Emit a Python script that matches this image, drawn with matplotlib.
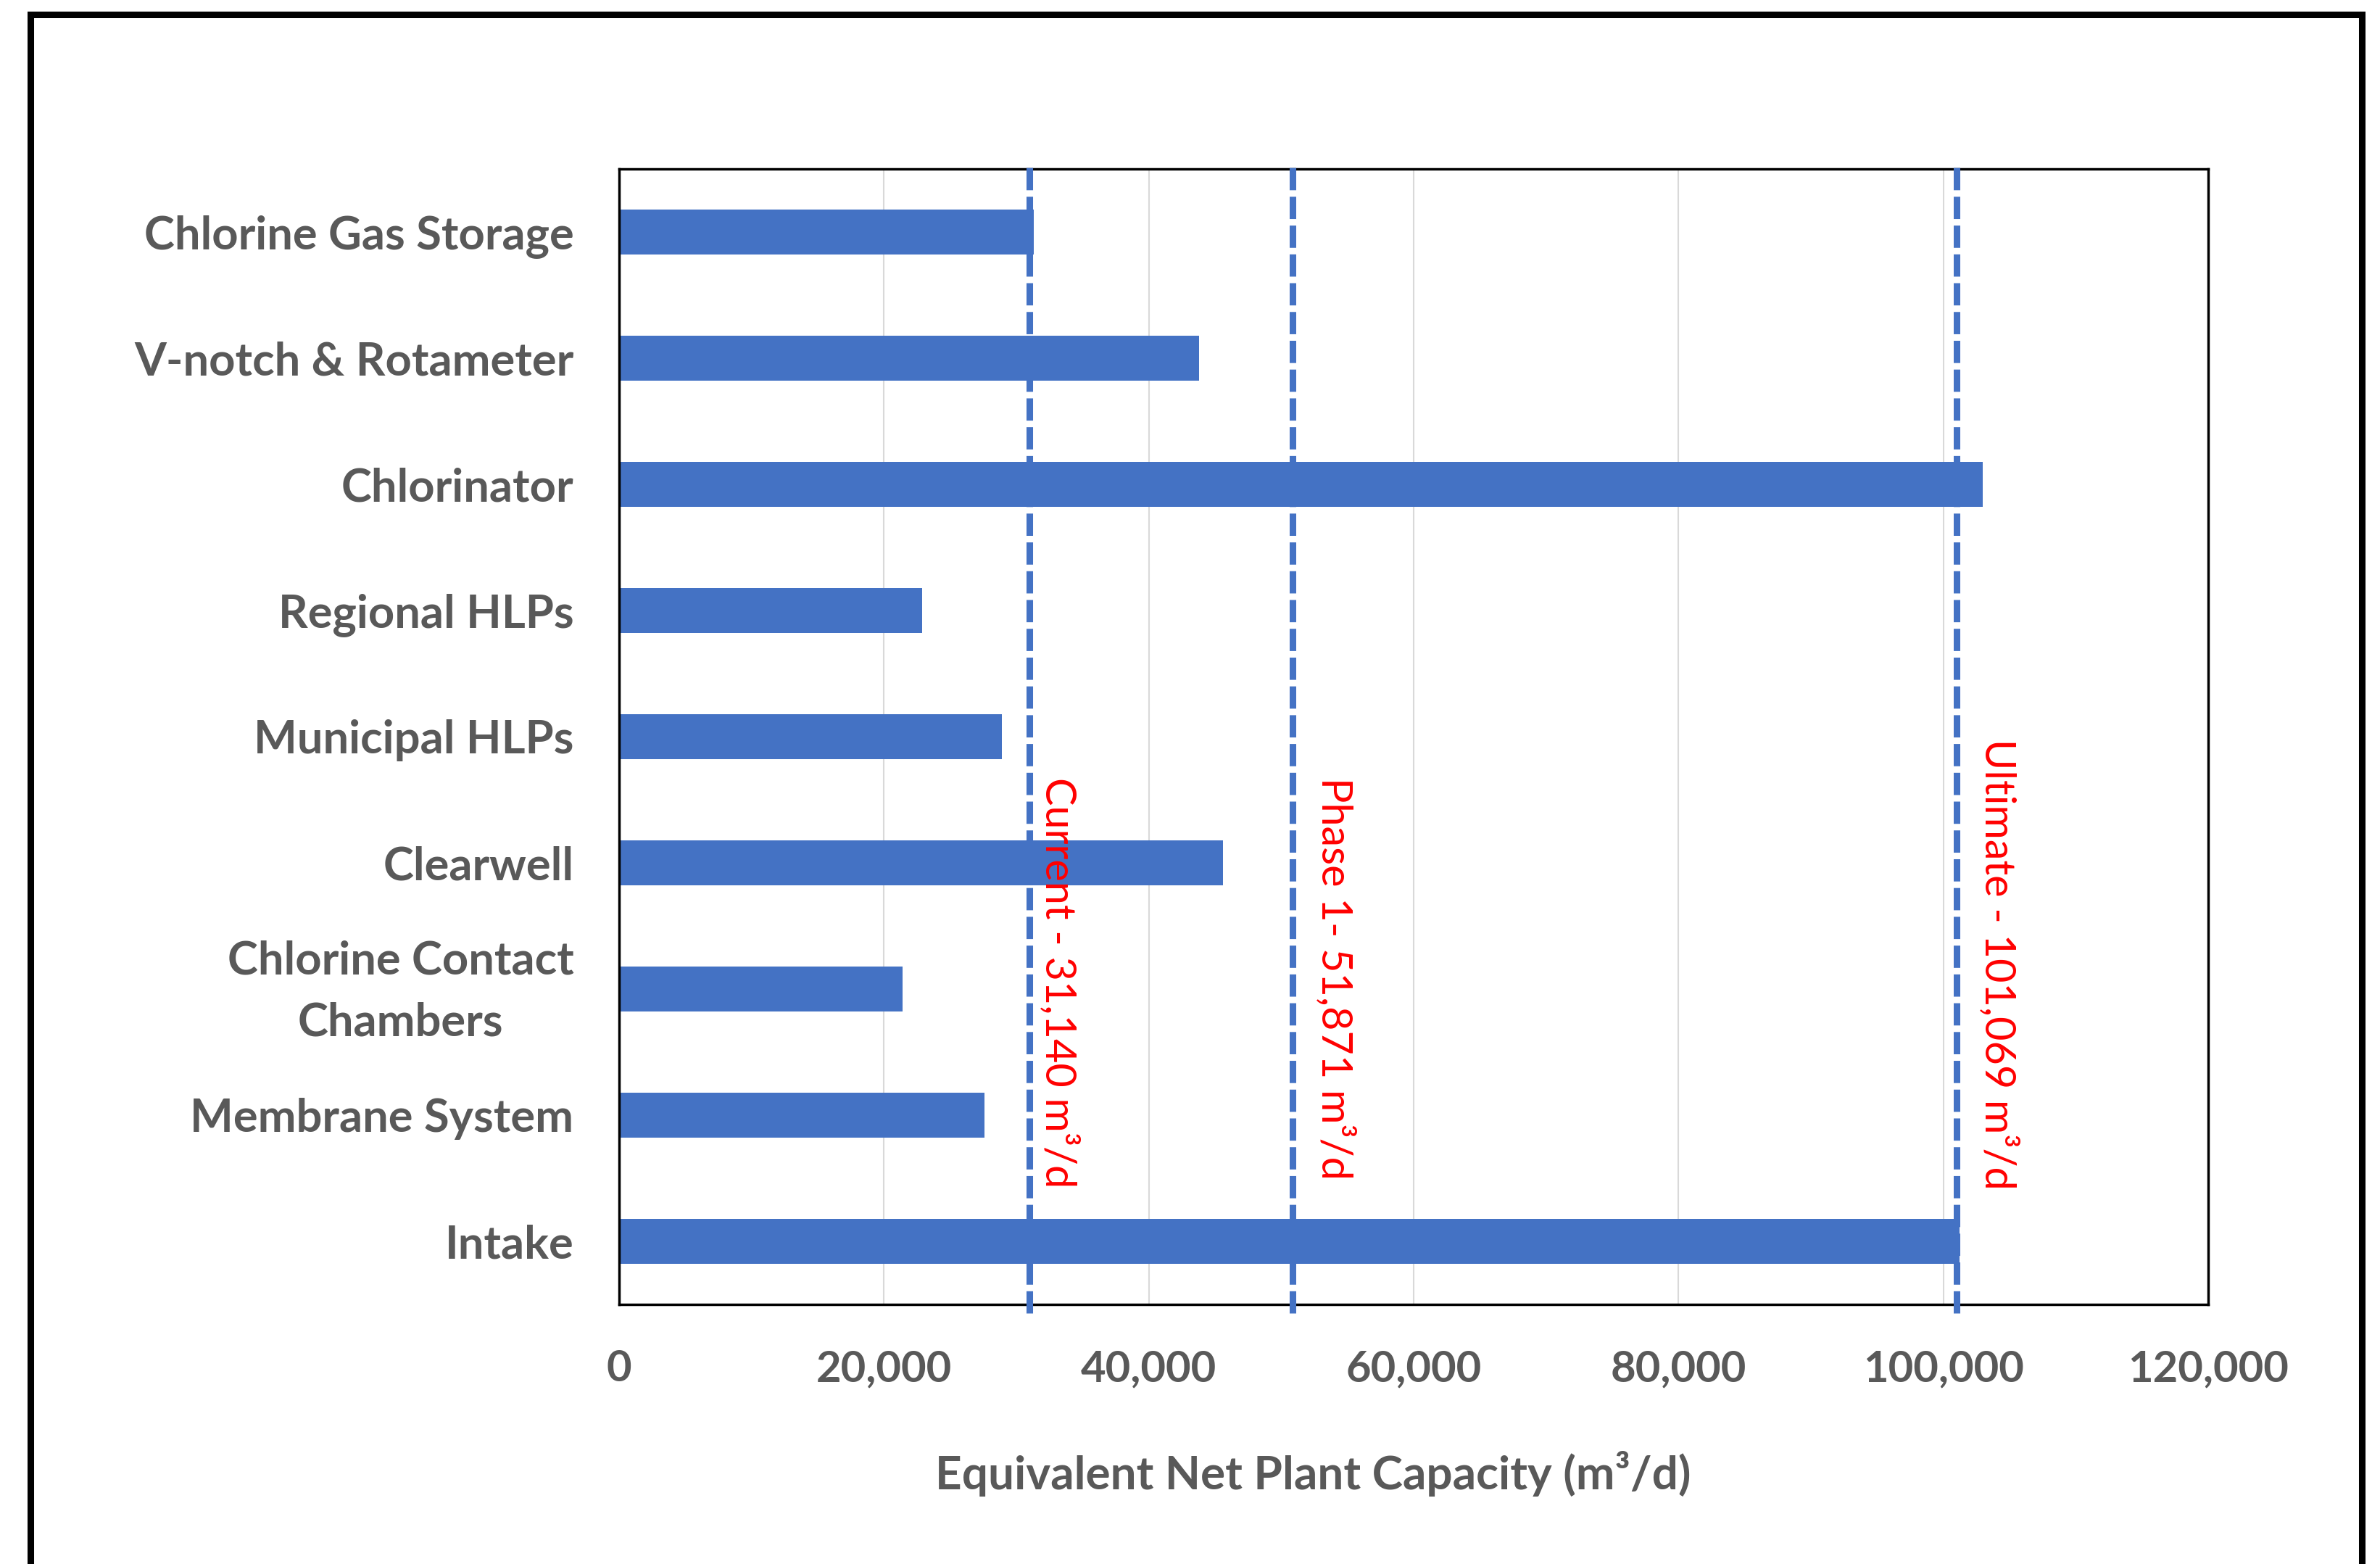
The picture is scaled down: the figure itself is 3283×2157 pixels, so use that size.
import numpy as np
import matplotlib
matplotlib.use('Agg')
import matplotlib.pyplot as plt
from matplotlib.lines import Line2D
from matplotlib.ticker import FuncFormatter
from matplotlib.transforms import ScaledTranslation

plt.rcParams['font.family'] = ['Lato', 'DejaVu Sans']

# datos
componentes = ['Chlorine Gas Storage', 'V-notch & Rotameter', 'Chlorinator', 'Regional HLPs',
               'Municipal HLPs', 'Clearwell', 'Chlorine Contact\nChambers', 'Membrane System', 'Intake']
capacidad = [31300, 43800, 103000, 22900, 28900, 45600, 21400, 27600, 101200]

# lineas de referencia (posicion dibujada) y su texto
lineas_x = [31000, 50850, 101000]
lineas_texto = ['Current - 31,140 m³/d', 'Phase 1- 51,871 m³/d', 'Ultimate - 101,069 m³/d']

x_ticks = [0, 20000, 40000, 60000, 80000, 100000, 120000]

azul = '#4472C4'
gris = '#595959'

fig = plt.figure(figsize=(32.83, 21.57), dpi=100)
ax = fig.add_axes([0.2601, 0.1660, 0.6677, 0.7260])

y = np.arange(len(componentes))
ax.barh(y, capacidad, height=0.36, color=azul, zorder=2)

ax.set_xlim(0, 120000)
ax.set_ylim(-0.5, len(componentes) - 0.5)
ax.invert_yaxis()

ax.set_xticks(x_ticks)
ax.xaxis.set_major_formatter(FuncFormatter(lambda v, p: f'{int(v):,}'))
ax.set_yticks(y)
ax.set_yticklabels(componentes)

ax.tick_params(axis='both', length=0, labelcolor=gris)
ax.tick_params(axis='x', pad=45, labelsize=43)
ax.tick_params(axis='y', pad=45, labelsize=45.5)
for lbl in ax.get_xticklabels() + ax.get_yticklabels():
    lbl.set_fontweight('bold')
for lbl in ax.get_yticklabels():
    if '\n' in lbl.get_text():
        lbl.set_multialignment('center')
        lbl.set_linespacing(1.58)
        # subir un poco la etiqueta de dos lineas
        lbl.set_transform(lbl.get_transform() + ScaledTranslation(0, 0.15, fig.dpi_scale_trans))

ax.xaxis.grid(True, color='#D9D9D9', lw=1.5, zorder=0)
ax.set_axisbelow(True)
for s in ax.spines.values():
    s.set_color('black')
    s.set_linewidth(2.5)

# lineas punteadas y etiquetas rojas
desplaz = [16.5, 29.5, 29]
y_texto = [4.32, 4.32, 4.02]
for xv, txt, dx, yt in zip(lineas_x, lineas_texto, desplaz, y_texto):
    ax.axvline(xv, ymin=-0.008, ymax=1.006, color=azul, lw=6.5,
               linestyle=(0, (3.4, 1.0)), clip_on=False, zorder=3)
    ax.annotate(txt, xy=(xv, yt), xytext=(dx, 0), textcoords='offset points',
                rotation=-90, rotation_mode='anchor', ha='left', va='baseline',
                color='#FF0000', fontsize=41.5, zorder=4)

fig.text(0.5517, 0.0575, 'Equivalent Net Plant Capacity (m³/d)', ha='center', va='center',
         fontsize=46, fontweight='bold', color=gris)

# marco exterior
marco = Line2D([0.0128, 0.0128, 0.9924, 0.9924], [0.0, 0.9905, 0.9905, 0.0],
               transform=fig.transFigure, color='black', lw=6.5, solid_joinstyle='miter')
fig.add_artist(marco)

fig.savefig('out.png', dpi=100)
